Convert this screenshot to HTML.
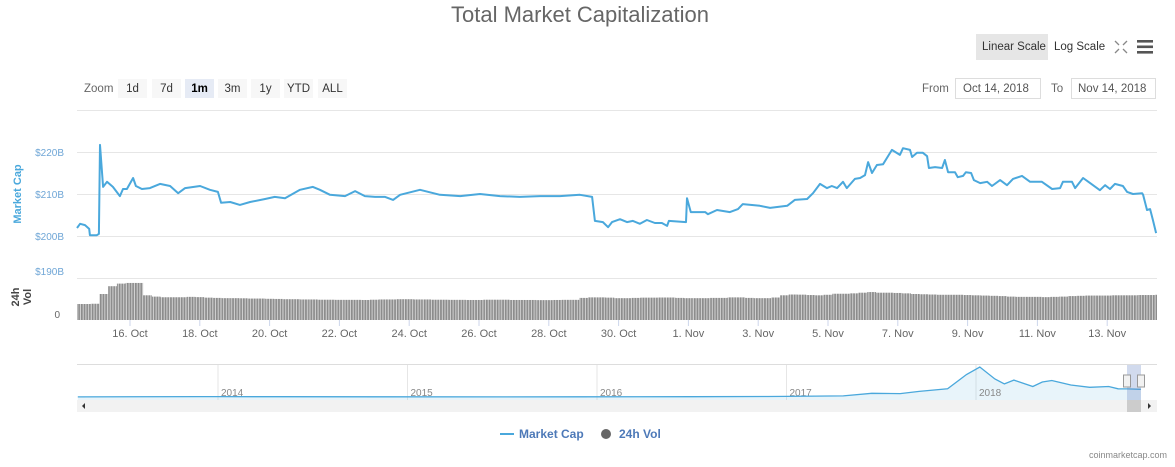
<!DOCTYPE html>
<html><head><meta charset="utf-8"><style>
body{margin:0;background:#fff;width:1175px;height:467px;overflow:hidden;font-family:"Liberation Sans",sans-serif;}
svg{position:absolute;left:0;top:0}
</style></head><body>
<svg id="c" width="1175" height="467" xmlns="http://www.w3.org/2000/svg">
<defs><pattern id="stripes" width="2.7" height="10" patternUnits="userSpaceOnUse"><rect width="2.7" height="10" fill="#d2d2d2"/><rect width="1.7" height="10" fill="#8c8c8c"/></pattern></defs>
<text x="580" y="22" text-anchor="middle" font-size="22" fill="#666">Total Market Capitalization</text>
<g>
<rect x="976" y="34" width="72" height="26" fill="#e6e6e6"/>
<text x="982" y="50" font-size="11.5" fill="#333">Linear Scale</text>
<text x="1054" y="50" font-size="11.5" fill="#333">Log Scale</text>
</g>
<g stroke="#888" stroke-width="1.3">
<path d="M1115 41l4 4M1127 41l-4 4M1115 53l4-4M1127 53l-4-4"/>
</g>
<g fill="#555">
<rect x="1137" y="40" width="16" height="2.6"/><rect x="1137" y="45.5" width="16" height="2.6"/><rect x="1137" y="51" width="16" height="2.6"/>
</g>
<text x="84" y="92" font-size="11.5" fill="#666">Zoom</text>
<g id="zoomBtns"></g>
<text x="922" y="92" font-size="11.5" fill="#666">From</text>
<rect x="955.5" y="78.5" width="85" height="20" fill="#fff" stroke="#ddd"/>
<text x="963" y="92" font-size="11.5" fill="#555">Oct 14, 2018</text>
<text x="1051" y="92" font-size="11.5" fill="#666">To</text>
<rect x="1071.5" y="78.5" width="84" height="20" fill="#fff" stroke="#ddd"/>
<text x="1078" y="92" font-size="11.5" fill="#555">Nov 14, 2018</text>
<g id="grid"></g>
<g id="vol"></g>
<g id="line"></g>
<g id="xaxis"></g>
<text transform="translate(21,194) rotate(-90)" text-anchor="middle" font-size="11" font-weight="bold" fill="#4aa8dc">Market Cap</text>
<text transform="translate(19,297) rotate(-90)" text-anchor="middle" font-size="11" font-weight="bold" fill="#444">24h</text>
<text transform="translate(31,297) rotate(-90)" text-anchor="middle" font-size="11" font-weight="bold" fill="#444">Vol</text>
<g id="nav"></g>
<g>
<g><rect x="500" y="433" width="14" height="2" fill="#4aa8dc"/><text x="519" y="438" font-size="12" font-weight="bold" fill="#4d79b8">Market Cap</text></g>
<g><circle cx="606" cy="434" r="5" fill="#666"/><text x="619" y="438" font-size="12" font-weight="bold" fill="#4d79b8">24h Vol</text></g>
</g>
<text x="1167" y="458" text-anchor="end" font-size="9" fill="#888">coinmarketcap.com</text>
</svg>
<script>
// Market cap: day offset from 16 Oct 00:00, value in $B
const capDays=[-1.52,-1.43,-1.29,-1.17,-1.15,-0.95,-0.89,-0.86,-0.77,-0.66,-0.49,-0.29,-0.20,-0.09,0.09,0.17,0.34,0.57,0.86,1.15,1.38,1.58,2.01,2.29,2.52,2.61,2.87,3.15,3.44,3.87,4.15,4.44,4.87,5.24,5.44,5.73,6.16,6.45,6.73,7.02,7.31,7.54,7.74,8.31,8.88,9.46,10.03,10.60,11.17,11.75,12.32,
12.89,13.24,13.32,13.55,13.70,13.81,14.04,14.24,14.41,14.61,14.81,15.04,15.24,15.39,15.44,15.93,15.96,16.07,16.48,16.56,16.82,17.19,17.42,17.56,18.05,18.34,18.83,19.05,19.40,19.57,19.77,19.97,20.11,20.26,20.43,20.54,20.77,20.92,21.06,21.15,21.26,21.40,21.58,21.83,22.06,22.15,22.35,22.41,22.55,22.72,22.84,22.89,23.07,23.27,23.35,23.44,23.64,23.72,23.87,23.95,24.10,24.18,24.36,24.56,24.70,24.93,25.13,25.30,25.56,25.79,26.13,26.42,26.65,26.73,26.99,27.08,27.31,27.51,27.79,27.94,28.08,28.22,28.45,28.57,28.74,29.00,29.03,29.14,29.23,29.31,29.40];
const capValues=[201.9,202.9,202.6,201.7,200.2,200.2,200.5,221.7,211.7,212.9,211.7,209.5,211.2,211.2,213.8,211.9,211.2,211.4,212.4,211.9,210.2,211.4,211.9,211.0,210.5,207.9,208.1,207.4,208.1,208.8,209.3,209.0,211.0,211.7,211.0,209.8,209.5,210.7,209.5,209.3,209.3,208.6,209.8,211.0,209.8,209.5,210.0,209.5,209.3,209.5,209.5,
209.8,209.3,203.6,203.3,202.1,203.3,204.0,203.3,203.6,202.9,203.8,203.1,203.1,202.4,203.6,203.3,209.0,205.7,205.7,205.2,206.2,205.7,206.4,207.6,207.2,206.7,207.2,208.6,208.8,210.2,212.4,211.4,211.9,211.4,212.9,211.4,213.6,213.8,214.5,217.6,215.0,216.9,217.1,220.5,219.3,220.9,220.5,218.8,219.8,219.8,219.0,216.2,216.4,216.2,218.1,215.2,215.2,214.0,214.3,215.2,215.0,213.3,212.6,212.9,211.9,213.3,212.1,213.6,214.3,212.9,212.9,211.2,211.4,212.9,212.9,211.4,213.8,212.6,210.9,212.1,211.2,212.4,211.9,210.5,210.0,210.2,209.8,206.2,206.4,203.8,200.7];
// 24h volume ($B), one bar per quarter day starting at volStartDay
const volStartDay=-1.5;
const volValues=[12.3,12.3,12.5,20,26,28,28.5,28.5,19,18,17.5,17.5,17.5,17.8,17.6,17.2,17,16.8,16.8,16.7,16.5,16.5,16.3,16.2,16,16,15.8,15.8,15.6,15.6,15.5,15.5,15.5,15.4,15.6,15.8,15.8,16,16,15.8,15.8,15.6,15.6,15.5,15.5,15.4,15.4,15.6,15.6,15.6,15.4,15.4,15.4,15.3,15.3,15.4,15.5,15.5,17,17.4,17.4,17.2,16.8,16.8,17,17.2,17.2,17.3,17.3,17,16.8,16.8,16.8,17,17,17.4,17.4,17,16.8,16.8,17.3,19,19.6,19.5,19.2,19,19.4,20.2,20.2,20.5,21,21.5,21,21,20.8,20.5,20,19.8,19.6,19.4,19.4,19.4,19.2,19,18.8,18.6,18.4,18,17.8,17.8,17.8,17.6,17.8,18,18.4,18.6,18.8,18.8,18.8,19,19,19,19.2,19.2,19.4,19.6,19.8,20];
const yTicks=[200,210,220];
const yTickLabels=["$200B","$210B","$220B"];
const xTickDays=[0,2,4,6,8,10,12,14,16,18,20,22,24,26,28];
const xTickLabels=["16. Oct","18. Oct","20. Oct","22. Oct","24. Oct","26. Oct","28. Oct","30. Oct","1. Nov","3. Nov","5. Nov","7. Nov","9. Nov","11. Nov","13. Nov"];
const navYears=[2013.26,2013.9,2014.0,2014.3,2014.9,2015.5,2015.9,2016.5,2016.9,2017.0,2017.3,2017.45,2017.6,2017.7,2017.85,2017.95,2018.02,2018.1,2018.15,2018.2,2018.3,2018.35,2018.4,2018.5,2018.6,2018.7,2018.75,2018.8,2018.87];
const navValues=[1.5,10,10,8,5,4,5,9,13,17,28,100,90,150,220,600,800,480,350,450,280,400,440,320,260,280,220,215,205];
const navYearLabels=["2014","2015","2016","2017","2018"];
const navYearTicks=[2014,2015,2016,2017,2018];

const NS="http://www.w3.org/2000/svg";
function mk(tag,attrs,parent){const e=document.createElementNS(NS,tag);for(const k in attrs)e.setAttribute(k,attrs[k]);parent.appendChild(e);return e;}
const X0=77,X1=1157;
const xs=d=>130+d*34.9;
const ys=v=>152+(220-v)*4.2;
const yv=v=>320-v*1.3;
const g=document.getElementById('grid'),vg=document.getElementById('vol'),lg=document.getElementById('line'),xg=document.getElementById('xaxis'),ng=document.getElementById('nav');

const zb=document.getElementById('zoomBtns');
const zl=["1d","7d","1m","3m","1y","YTD","ALL"],zx=[118,152,185,218,251,284,318];
zl.forEach((t,i)=>{
 const r=mk('rect',{x:zx[i],y:79,width:29,height:19,fill:i==2?'#e6ebf5':'#f7f7f7'},zb);
 
 
 const tx=mk('text',{x:zx[i]+14.5,y:92,'text-anchor':'middle','font-size':'11.5',fill:i==2?'#000':'#333','font-weight':i==2?'bold':'normal'},zb);
 tx.textContent=t;
 
 
});

[110,278].forEach(y=>{const l=mk('line',{x1:X0,x2:X1,y1:y+.5,y2:y+.5,stroke:'#e6e6e6'},g);
 
 });
yTicks.forEach((v,i)=>{
 const l=mk('line',{x1:X0,x2:X1,y1:ys(v)+.5,y2:ys(v)+.5,stroke:'#e6e6e6'},g);
 
 
 const t=mk('text',{x:64,y:ys(v)+4,'text-anchor':'end','font-size':'10',fill:'#6fa6d6'},g);
 t.textContent=yTickLabels[i];
 
 
});
const t190=mk('text',{x:64,y:275,'text-anchor':'end','font-size':'10',fill:'#6fa6d6'},g);t190.textContent="$190B";


const t0=mk('text',{x:60,y:318,'text-anchor':'end','font-size':'10',fill:'#666'},g);t0.textContent="0";



volValues.forEach((v,i)=>{
 const d=volStartDay+i*0.25;
 const x=Math.max(X0,xs(d-0.125)),x2=Math.min(X1,xs(d+0.125));
 if(x2<=x)return;
 const b=mk('rect',{x:x,y:yv(v),width:x2-x,height:320-yv(v),fill:'url(#stripes)'},vg);
 
 
});

const p=mk('path',{d:capDays.map((d,i)=>(i?'L':'M')+Math.min(X1,xs(d)).toFixed(1)+' '+ys(capValues[i]).toFixed(1)).join(''),fill:'none',stroke:'#4aa8dc','stroke-width':2,'stroke-linejoin':'round'},lg);



xTickDays.forEach((d,i)=>{
 const l=mk('line',{x1:xs(d),x2:xs(d),y1:320,y2:326,stroke:'#ccd6eb'},xg);
 
 
 const t=mk('text',{x:xs(d),y:337,'text-anchor':'middle','font-size':'11',fill:'#666'},xg);
 t.textContent=xTickLabels[i];
 
 
});

const nx=yr=>218+(yr-2014)*189.5;
const ny=v=>397-v*0.0375;
const nb=mk('line',{x1:X0,x2:X1,y1:364.5,y2:364.5,stroke:'#ddd'},ng);


navYearTicks.forEach((yr)=>{
 const l=mk('line',{x1:nx(yr),x2:nx(yr),y1:365,y2:400,stroke:'#e6e6e6'},ng);
 
 
});
const pts=navYears.map((y,i)=>nx(y).toFixed(1)+' '+ny(navValues[i]).toFixed(1));
const na=mk('path',{d:'M'+pts.join('L')+'L'+nx(navYears[navYears.length-1])+' 400L'+nx(navYears[0])+' 400Z',fill:'rgba(74,168,220,0.13)'},ng);


navYearTicks.forEach((yr,i)=>{
 const t=mk('text',{x:nx(yr)+3,y:396,'font-size':'10',fill:'#888'},ng);
 t.textContent=navYearLabels[i];
 
 
});
const nl=mk('path',{d:'M'+pts.join('L'),fill:'none',stroke:'#4aa8dc','stroke-width':1.3},ng);


const sel=mk('rect',{x:1127,y:365,width:14,height:35,fill:'rgba(102,133,194,0.3)'},ng);


[1127,1141].forEach(x=>{const h=mk('rect',{x:x-3.5,y:375,width:7,height:12,fill:'#f2f2f2',stroke:'#999'},ng);
 
 });
const sb=mk('rect',{x:77,y:400,width:1080,height:12,fill:'#f2f2f2'},ng);


const st=mk('rect',{x:1127,y:400,width:14,height:12,fill:'#ccc'},ng);


const al=mk('path',{d:'M85 403l-3 3 3 3z',fill:'#333'},ng);


const ar=mk('path',{d:'M1148 403l3 3-3 3z',fill:'#333'},ng);


</script>
</body></html>
